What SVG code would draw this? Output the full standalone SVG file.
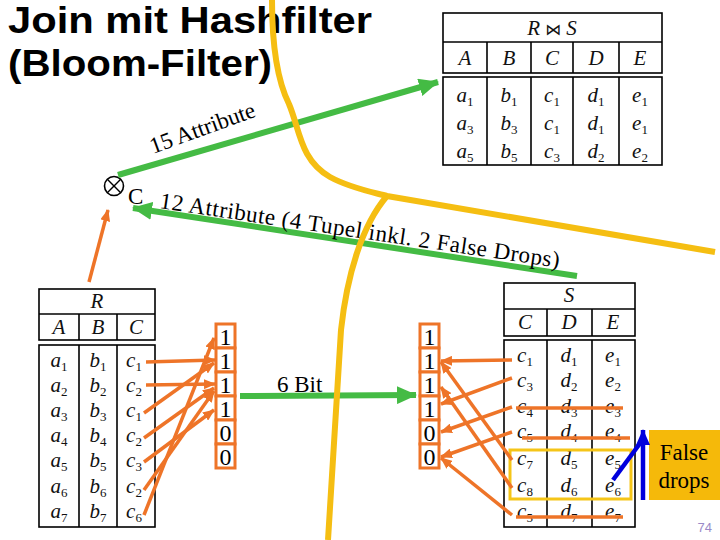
<svg xmlns="http://www.w3.org/2000/svg" width="720" height="540" viewBox="0 0 720 540">
<style>
.title{font-family:"Liberation Sans",Arial,sans-serif;font-weight:bold;font-size:36px;fill:#000}
.m{font-family:"Liberation Serif","Times New Roman",serif;font-style:italic;font-size:21px;fill:#111;text-anchor:middle}
.s{font-style:normal;font-size:13px}
.tb{fill:none;stroke:#000;stroke-width:1.6}
.bit{font-family:"Liberation Serif","Times New Roman",serif;font-size:24px;fill:#000;text-anchor:middle}
.lbl{font-family:"Liberation Serif","Times New Roman",serif;font-size:23px;fill:#000}
.or{stroke:#EE7428;stroke-width:3.5;fill:none}
.gr{stroke:#44BB44;stroke-width:6;fill:none}
.cell{fill:#fff;stroke:#EE7428;stroke-width:3}
</style>
<defs>
<marker id="ao" markerUnits="userSpaceOnUse" markerWidth="12" markerHeight="10" refX="11" refY="5" orient="auto"><path d="M0,0 L12,5 L0,10 z" fill="#EE7428"/></marker>
<marker id="ag" markerUnits="userSpaceOnUse" markerWidth="20" markerHeight="18" refX="19" refY="9" orient="auto"><path d="M0,0 L20,9 L0,18 z" fill="#44BB44"/></marker>
<marker id="ab" markerUnits="userSpaceOnUse" markerWidth="16" markerHeight="14" refX="15" refY="7" orient="auto"><path d="M0,0 L16,7 L0,14 z" fill="#0000DD"/></marker>
</defs>
<rect width="720" height="540" fill="#fff"/>

<g id="title">
<text class="title" x="8" y="33" textLength="364" lengthAdjust="spacingAndGlyphs">Join mit Hashfilter</text>
<text class="title" x="8" y="76" textLength="264" lengthAdjust="spacingAndGlyphs">(Bloom-Filter)</text>
</g>

<g id="table-RS">
<rect class="tb" x="443" y="13" width="219" height="60"/>
<line class="tb" x1="443" y1="42" x2="662" y2="42"/>
<line class="tb" x1="487" y1="42" x2="487" y2="73"/>
<line class="tb" x1="531" y1="42" x2="531" y2="73" stroke-width="2.8"/>
<line class="tb" x1="573" y1="42" x2="573" y2="73"/>
<line class="tb" x1="619" y1="42" x2="619" y2="73"/>
<rect class="tb" x="443" y="77" width="219" height="88"/>
<line class="tb" x1="487" y1="77" x2="487" y2="165"/>
<line class="tb" x1="531" y1="77" x2="531" y2="165" stroke-width="2.8"/>
<line class="tb" x1="573" y1="77" x2="573" y2="165"/>
<line class="tb" x1="619" y1="77" x2="619" y2="165"/>
<text class="m" x="552" y="35">R<tspan font-style="normal" font-family="DejaVu Sans,sans-serif" font-size="16"> ⋈ </tspan>S</text>
<text class="m" x="465" y="65">A</text><text class="m" x="509" y="65">B</text><text class="m" x="552" y="65">C</text><text class="m" x="596" y="65">D</text><text class="m" x="640" y="65">E</text>
<text class="m" x="465" y="102">a<tspan class="s" dy="4">1</tspan></text>
<text class="m" x="509" y="102">b<tspan class="s" dy="4">1</tspan></text>
<text class="m" x="552" y="102">c<tspan class="s" dy="4">1</tspan></text>
<text class="m" x="596" y="102">d<tspan class="s" dy="4">1</tspan></text>
<text class="m" x="640" y="102">e<tspan class="s" dy="4">1</tspan></text>
<text class="m" x="465" y="130">a<tspan class="s" dy="4">3</tspan></text>
<text class="m" x="509" y="130">b<tspan class="s" dy="4">3</tspan></text>
<text class="m" x="552" y="130">c<tspan class="s" dy="4">1</tspan></text>
<text class="m" x="596" y="130">d<tspan class="s" dy="4">1</tspan></text>
<text class="m" x="640" y="130">e<tspan class="s" dy="4">1</tspan></text>
<text class="m" x="465" y="158">a<tspan class="s" dy="4">5</tspan></text>
<text class="m" x="509" y="158">b<tspan class="s" dy="4">5</tspan></text>
<text class="m" x="552" y="158">c<tspan class="s" dy="4">3</tspan></text>
<text class="m" x="596" y="158">d<tspan class="s" dy="4">2</tspan></text>
<text class="m" x="640" y="158">e<tspan class="s" dy="4">2</tspan></text>
</g>

<g id="table-R">
<rect class="tb" x="39" y="289" width="116" height="51"/>
<line class="tb" x1="39" y1="314" x2="155" y2="314"/>
<line class="tb" x1="79" y1="314" x2="79" y2="340"/>
<line class="tb" x1="117" y1="314" x2="117" y2="340"/>
<rect class="tb" x="39" y="345" width="116" height="182"/>
<line class="tb" x1="79" y1="345" x2="79" y2="527"/>
<line class="tb" x1="117" y1="345" x2="117" y2="527"/>
<text class="m" x="97" y="308">R</text>
<text class="m" x="59" y="334">A</text><text class="m" x="98" y="334">B</text><text class="m" x="136" y="334">C</text>
<text class="m" x="59" y="367">a<tspan class="s" dy="4">1</tspan></text><text class="m" x="98" y="367">b<tspan class="s" dy="4">1</tspan></text><text class="m" x="134" y="367">c<tspan class="s" dy="4">1</tspan></text>
<text class="m" x="59" y="392">a<tspan class="s" dy="4">2</tspan></text><text class="m" x="98" y="392">b<tspan class="s" dy="4">2</tspan></text><text class="m" x="134" y="392">c<tspan class="s" dy="4">2</tspan></text>
<text class="m" x="59" y="417">a<tspan class="s" dy="4">3</tspan></text><text class="m" x="98" y="417">b<tspan class="s" dy="4">3</tspan></text><text class="m" x="134" y="417">c<tspan class="s" dy="4">1</tspan></text>
<text class="m" x="59" y="442">a<tspan class="s" dy="4">4</tspan></text><text class="m" x="98" y="442">b<tspan class="s" dy="4">4</tspan></text><text class="m" x="134" y="442">c<tspan class="s" dy="4">2</tspan></text>
<text class="m" x="59" y="467">a<tspan class="s" dy="4">5</tspan></text><text class="m" x="98" y="467">b<tspan class="s" dy="4">5</tspan></text><text class="m" x="134" y="467">c<tspan class="s" dy="4">3</tspan></text>
<text class="m" x="59" y="493">a<tspan class="s" dy="4">6</tspan></text><text class="m" x="98" y="493">b<tspan class="s" dy="4">6</tspan></text><text class="m" x="134" y="493">c<tspan class="s" dy="4">2</tspan></text>
<text class="m" x="59" y="518">a<tspan class="s" dy="4">7</tspan></text><text class="m" x="98" y="518">b<tspan class="s" dy="4">7</tspan></text><text class="m" x="134" y="518">c<tspan class="s" dy="4">6</tspan></text>
</g>

<g id="table-S">
<rect class="tb" x="504" y="283" width="131" height="53"/>
<line class="tb" x1="504" y1="309" x2="635" y2="309"/>
<line class="tb" x1="547" y1="309" x2="547" y2="336"/>
<line class="tb" x1="592" y1="309" x2="592" y2="336"/>
<rect class="tb" x="504" y="340" width="131" height="187"/>
<line class="tb" x1="547" y1="340" x2="547" y2="527"/>
<line class="tb" x1="592" y1="340" x2="592" y2="527"/>
<text class="m" x="569" y="302">S</text>
<text class="m" x="525" y="329">C</text><text class="m" x="569" y="329">D</text><text class="m" x="613" y="329">E</text>
<text class="m" x="525" y="362">c<tspan class="s" dy="4">1</tspan></text><text class="m" x="569" y="362">d<tspan class="s" dy="4">1</tspan></text><text class="m" x="613" y="362">e<tspan class="s" dy="4">1</tspan></text>
<text class="m" x="525" y="387">c<tspan class="s" dy="4">3</tspan></text><text class="m" x="569" y="387">d<tspan class="s" dy="4">2</tspan></text><text class="m" x="613" y="387">e<tspan class="s" dy="4">2</tspan></text>
<text class="m" x="525" y="413">c<tspan class="s" dy="4">4</tspan></text><text class="m" x="569" y="413">d<tspan class="s" dy="4">3</tspan></text><text class="m" x="613" y="413">e<tspan class="s" dy="4">3</tspan></text>
<text class="m" x="525" y="438">c<tspan class="s" dy="4">5</tspan></text><text class="m" x="569" y="438">d<tspan class="s" dy="4">4</tspan></text><text class="m" x="613" y="438">e<tspan class="s" dy="4">4</tspan></text>
<text class="m" x="525" y="465">c<tspan class="s" dy="4">7</tspan></text><text class="m" x="569" y="465">d<tspan class="s" dy="4">5</tspan></text><text class="m" x="613" y="465">e<tspan class="s" dy="4">5</tspan></text>
<text class="m" x="525" y="492">c<tspan class="s" dy="4">8</tspan></text><text class="m" x="569" y="492">d<tspan class="s" dy="4">6</tspan></text><text class="m" x="613" y="492">e<tspan class="s" dy="4">6</tspan></text>
<text class="m" x="525" y="518">c<tspan class="s" dy="4">5</tspan></text><text class="m" x="569" y="518">d<tspan class="s" dy="4">7</tspan></text><text class="m" x="613" y="518">e<tspan class="s" dy="4">7</tspan></text>
<line class="or" x1="516" y1="408" x2="623" y2="408" stroke-width="3"/>
<line class="or" x1="522" y1="438" x2="630" y2="438" stroke-width="3"/>
<line class="or" x1="516" y1="517" x2="623" y2="517" stroke-width="3"/>
<rect x="510" y="450" width="121" height="49" fill="none" stroke="#F5C518" stroke-width="3"/>
</g>

<g id="bits-left">
<rect class="cell" x="216" y="324" width="19" height="24"/>
<rect class="cell" x="216" y="348" width="19" height="24"/>
<rect class="cell" x="216" y="372" width="19" height="24"/>
<rect class="cell" x="216" y="396" width="19" height="24"/>
<rect class="cell" x="216" y="420" width="19" height="24"/>
<rect class="cell" x="216" y="444" width="19" height="24"/>
<text class="bit" x="225.5" y="345">1</text>
<text class="bit" x="225.5" y="369">1</text>
<text class="bit" x="225.5" y="393">1</text>
<text class="bit" x="225.5" y="417">1</text>
<text class="bit" x="225.5" y="441">0</text>
<text class="bit" x="225.5" y="465">0</text>
</g>

<g id="bits-right">
<rect class="cell" x="420" y="324" width="19" height="24"/>
<rect class="cell" x="420" y="348" width="19" height="24"/>
<rect class="cell" x="420" y="372" width="19" height="24"/>
<rect class="cell" x="420" y="396" width="19" height="24"/>
<rect class="cell" x="420" y="420" width="19" height="24"/>
<rect class="cell" x="420" y="444" width="19" height="24"/>
<text class="bit" x="429.5" y="345">1</text>
<text class="bit" x="429.5" y="369">1</text>
<text class="bit" x="429.5" y="393">1</text>
<text class="bit" x="429.5" y="417">1</text>
<text class="bit" x="429.5" y="441">0</text>
<text class="bit" x="429.5" y="465">0</text>
</g>

<g id="join-op">
<circle cx="114" cy="186" r="9.5" fill="none" stroke="#000" stroke-width="1.6"/>
<line x1="107.3" y1="179.3" x2="120.7" y2="192.7" stroke="#000" stroke-width="1.4"/>
<line x1="120.7" y1="179.3" x2="107.3" y2="192.7" stroke="#000" stroke-width="1.4"/>
<text class="lbl" x="128" y="204" font-size="20">C</text>
</g>

<g id="false-drops">
<rect x="649" y="430" width="71" height="70" fill="#F5B90A"/>
<text class="lbl" x="684" y="460" font-size="22" text-anchor="middle">False</text>
<text class="lbl" x="684" y="488" font-size="22" text-anchor="middle">drops</text>
</g>

<g id="connectors">
<line class="gr" x1="118" y1="175" x2="438" y2="82" marker-end="url(#ag)"/>
<line class="gr" x1="577" y1="276" x2="133" y2="208" marker-end="url(#ag)"/>
<line class="gr" x1="240" y1="396" x2="416" y2="395" marker-end="url(#ag)"/>
<line class="or" x1="89" y1="282" x2="108" y2="210" stroke-width="3" marker-end="url(#ao)"/>
<line class="or" x1="146" y1="362" x2="215" y2="360" marker-end="url(#ao)"/>
<line class="or" x1="146" y1="385" x2="215" y2="384" marker-end="url(#ao)"/>
<line class="or" x1="144" y1="413" x2="214" y2="363" marker-end="url(#ao)"/>
<line class="or" x1="144" y1="438" x2="214" y2="388" marker-end="url(#ao)"/>
<line class="or" x1="144" y1="462" x2="214" y2="410" marker-end="url(#ao)"/>
<line class="or" x1="144" y1="490" x2="214" y2="391" marker-end="url(#ao)"/>
<line class="or" x1="144" y1="515" x2="214" y2="338" marker-end="url(#ao)"/>
<line class="or" x1="512" y1="360" x2="441" y2="361" marker-end="url(#ao)"/>
<line class="or" x1="512" y1="378" x2="441" y2="404" marker-end="url(#ao)"/>
<line class="or" x1="512" y1="407" x2="441" y2="432" marker-end="url(#ao)"/>
<line class="or" x1="512" y1="432" x2="441" y2="457" marker-end="url(#ao)"/>
<line class="or" x1="512" y1="460" x2="441" y2="362" marker-end="url(#ao)"/>
<line class="or" x1="512" y1="488" x2="441" y2="387" marker-end="url(#ao)"/>
<line class="or" x1="512" y1="515" x2="441" y2="458" marker-end="url(#ao)"/>
<line x1="613" y1="480" x2="641" y2="442" stroke="#0000DD" stroke-width="4.5"/>
<line x1="643" y1="500" x2="643" y2="430" stroke="#0000DD" stroke-width="4.5" marker-end="url(#ab)"/>
</g>

<g id="labels">
<text class="lbl" transform="translate(153,154) rotate(-20)" font-size="25">15 Attribute</text>
<text class="lbl" transform="translate(159,208) rotate(8.5)" font-size="24" textLength="404" lengthAdjust="spacing">12 Attribute (4 Tupel inkl. 2 False Drops)</text>
<text class="lbl" x="277" y="392" font-size="22">6 Bit</text>
</g>

<g id="divider">
<path d="M272,0 C272,40 276,78 289,104 C300,130 300,160 330,177 C350,188 372,192 387,196 Q550,224 715,252" fill="none" stroke="#F5BE12" stroke-width="6"/>
<path d="M387,196 C362,225 347,275 341,330 L328,540" fill="none" stroke="#F5BE12" stroke-width="6"/>
</g>

<text x="712" y="532" font-family="Liberation Sans,Arial,sans-serif" font-size="13" fill="#9A8AC8" text-anchor="end">74</text>
</svg>
